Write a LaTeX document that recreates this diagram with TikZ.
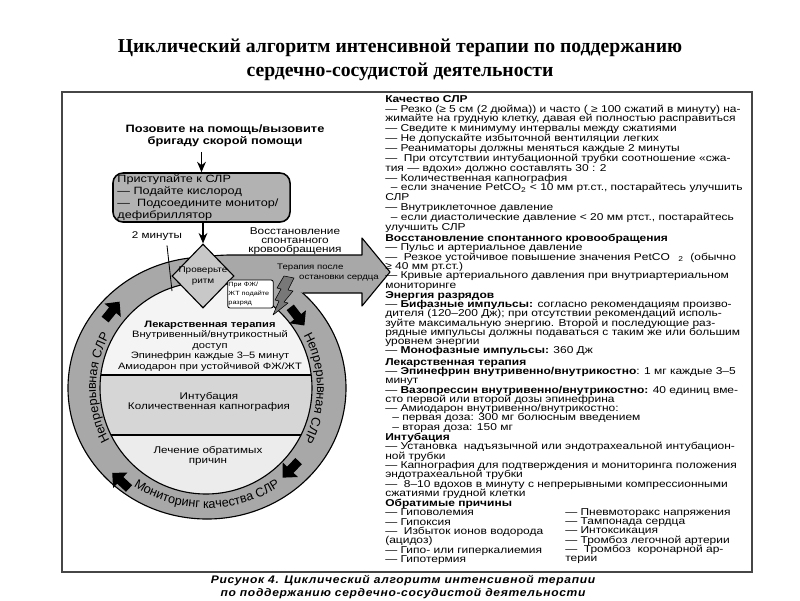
\documentclass[tikz,border=0pt]{standalone}
\usepackage{fontspec}
\setmainfont{Liberation Sans}[FakeStretch=1.2]
\newfontfamily\titlefont{Liberation Serif}
\newfontfamily\ringfont{Liberation Sans}
\newfontfamily\capfont{Liberation Sans}[FakeStretch=1.1,LetterSpace=6.0]
\usetikzlibrary{arrows.meta, shapes.geometric, positioning, decorations.text}
\definecolor{ringgray}{RGB}{168,168,168}
\definecolor{boxgray}{RGB}{178,178,178}
\definecolor{diagray}{RGB}{200,200,200}
\definecolor{bandtop}{RGB}{244,244,244}
\definecolor{bandmid}{RGB}{214,214,214}
\definecolor{bandlow}{RGB}{236,236,236}
\definecolor{boltgray}{RGB}{120,120,120}
\definecolor{framegray}{RGB}{70,70,70}
\newcommand{\notefont}{\fontsize{7.1}{6.6}\selectfont}

\begin{document}
\lineskiplimit=-10pt
\begin{tikzpicture}[x=0.025cm, y=0.025cm,
    flowarrow/.style={-{Stealth[length=2.6mm, width=2.2mm]}, line width=1.1pt},
    notes/.style={anchor=north west, align=left, inner sep=0pt, font=\notefont},
    ringtext/.style={decorate, decoration={text along path, text align=center, text={|\ringfont\fontsize{9}{10}\selectfont|#1}}},
    startbox/.style={draw, line width=1.1pt, fill=boxgray, rounded corners=0.25cm, minimum width=4.425cm, minimum height=1.225cm, text width=4.2cm, align=left, inner xsep=0.1cm, inner ysep=0pt, font=\fontsize{7.5}{8.5}\selectfont},
    checkdiamond/.style={diamond, draw, line width=0.8pt, fill=diagray, minimum width=1.55cm, minimum height=1.6cm, inner sep=0pt},
    shockbox/.style={draw, line width=0.6pt, fill=white, rounded corners=1.5pt, minimum width=1.125cm, minimum height=0.7cm, text width=1.1cm, align=left, inner xsep=0.5pt, inner ysep=1pt, font=\fontsize{4.3}{6.4}\selectfont}
  ]
  \useasboundingbox (0,0) rectangle (800,-600);

  % title and frame
  \node[font=\titlefont\bfseries\fontsize{14}{17}\selectfont, align=center] (title) at (400,-60) {Циклический алгоритм интенсивной терапии по поддержанию\\сердечно-сосудистой деятельности};
  \draw[framegray, line width=0.8pt] (62,-92) rectangle (752,-572);
  \node[font=\capfont\bfseries\itshape\fontsize{7.8}{8.6}\selectfont, align=center] (caption) at (403,-587) {Рисунок 4. Циклический алгоритм интенсивной терапии\\по поддержанию сердечно-сосудистой деятельности};

  % ring
  \coordinate (ringc) at (207,-388);
  \filldraw[fill=ringgray, line width=0.8pt] (ringc) ellipse [x radius=139, y radius=131];
  \fill[ringgray] (207,-257) .. controls (215,-255.5) .. (228,-255) -- (362,-255) -- (362,-238) -- (390,-272) -- (362,-306) -- (362,-293) -- (302.7,-293) -- cycle;
  \draw[line width=0.8pt, line join=round] (207,-257) .. controls (215,-255.5) .. (228,-255) -- (362,-255) -- (362,-238) -- (390,-272) -- (362,-306) -- (362,-293) -- (302.7,-293);
  \begin{scope}
    \clip (206,-388) ellipse [x radius=106, y radius=106];
    \fill[bandtop] (90,-280) rectangle (320,-375);
    \fill[bandmid] (90,-375) rectangle (320,-435);
    \fill[bandlow] (90,-435) rectangle (320,-500);
    \draw[line width=0.8pt] (90,-375) -- (320,-375);
    \draw[line width=0.8pt] (90,-435) -- (320,-435);
  \end{scope}
  \draw[line width=0.8pt] (206,-388) ellipse [x radius=106, y radius=106];

  % inner sections
  \node[font=\fontsize{6.6}{7.5}\selectfont, align=center] (drugs) at (210,-346) {\textbf{Лекарственная терапия}\\Внутривенный/внутрикостный\\доступ\\Эпинефрин каждые 3–5 минут\\Амиодарон при устойчивой ФЖ/ЖТ};
  \node[font=\fontsize{6.9}{7.3}\selectfont, align=center] (intub) at (209,-402) {Интубация\\Количественная капнография};
  \node[font=\fontsize{6.9}{7.3}\selectfont, align=center] (causes) at (208,-456) {Лечение обратимых\\причин};

  % text on the ring
  \path[ringtext={Непрерывная СЛР}] ([shift={(235:111 and 110)}]ringc) arc[start angle=235, end angle=125, x radius=111, y radius=110];
  \path[ringtext={Непрерывная СЛР}] ([shift={(55:110 and 110)}]ringc) arc[start angle=55, end angle=-55, x radius=110, y radius=110];
  \path[ringtext={Мониторинг качества СЛР}] ([shift={(195:128 and 120)}]ringc) arc[start angle=195, end angle=345, x radius=128, y radius=120];

  % arrows round the ring
  \fill[shift={(112,-311)}, rotate=51] (-11,-4.5) -- (1,-4.5) -- (1,-10.5) -- (12,0) -- (1,10.5) -- (1,4.5) -- (-11,4.5) -- cycle;
  \fill[shift={(297,-316)}, rotate=-52] (-11,-4.5) -- (1,-4.5) -- (1,-10.5) -- (12,0) -- (1,10.5) -- (1,4.5) -- (-11,4.5) -- cycle;
  \fill[shift={(291,-469)}, rotate=-134] (-11,-4.5) -- (1,-4.5) -- (1,-10.5) -- (12,0) -- (1,10.5) -- (1,4.5) -- (-11,4.5) -- cycle;
  \fill[shift={(121,-481)}, rotate=137] (-11,-4.5) -- (1,-4.5) -- (1,-10.5) -- (12,0) -- (1,10.5) -- (1,4.5) -- (-11,4.5) -- cycle;

  % flow at the top
  \node[font=\bfseries\fontsize{7.6}{8.5}\selectfont, align=center] (callhelp) at (225,-136) {Позовите на помощь/вызовите\\бригаду скорой помощи};
  \node[startbox] (startcpr) at (201.5,-197.5) {Приступайте к СЛР\\— Подайте кислород\\— \ Подсоедините монитор/\\дефибриллятор};
  \node[checkdiamond] (rhythm) at (203,-276) {};
  \node[font=\fontsize{5.9}{7.8}\selectfont, align=center] (rhythmtxt) at (rhythm.center) {Проверьте\\ритм};
  \draw[flowarrow] (startcpr.north |- callhelp.south) -- (startcpr.north);
  \draw[flowarrow] (rhythm.north |- startcpr.south) -- (rhythm.north);

  \node[font=\fontsize{6.9}{8}\selectfont] (twomin) at (157,-236) {2 минуты};
  \coordinate (twotip) at (172,-291);
  \draw[line width=0.6pt] ([xshift=0.25cm]twomin.south) -- (twotip);

  \node[font=\fontsize{7}{6.3}\selectfont, align=center] (rosc) at (295,-241) {Восстановление\\спонтанного\\кровообращения};
  \node[font=\fontsize{5.7}{7.1}\selectfont, align=left] (posttx) at (328,-273) {Терапия после\\\hspace*{15.6pt}остановки сердца};

  % shock
  \node[shockbox] (shock) at (250.5,-294) {При ФЖ/\\ЖТ подайте\\разряд};
  \filldraw[fill=boltgray, line width=0.4pt, line join=round] (284,-276) -- (294,-278) -- (288,-290) -- (293,-291) -- (284,-302) -- (288,-303) -- (273,-315) -- (279,-301) -- (275,-300) -- (281,-289) -- (277,-288) -- cycle;

  % notes column
  \node[notes, font=\fontsize{7.1}{7.0}\selectfont] (quality) at (385,-95) {\textbf{Качество СЛР}\\
    — Резко (≥ 5 см (2 дюйма)) и часто ( ≥ 100 сжатий в минуту) на-\\
    жимайте на грудную клетку, давая ей полностью расправиться\\
    — Сведите к минимуму интервалы между сжатиями\\
    — Не допускайте избыточной вентиляции легких\\
    — Реаниматоры должны меняться каждые 2 минуты\\
    — \ При отсутствии интубационной трубки соотношение «сжа-\\
    тия — вдохи» должно составлять 30 : 2\\
    — Количественная капнография\\
    \hspace*{4pt}– если значение PetCO\textsubscript{2} < 10 мм рт.ст., постарайтесь улучшить\\
    СЛР\\
    — Внутриклеточное давление\\
    \hspace*{4pt}– если диастолические давление < 20 мм ртст., постарайтесь\\
    улучшить СЛР};
  \node[notes] (roscnotes) at (385,-234) {\textbf{Восстановление спонтанного кровообращения}\\
    — Пульс и артериальное давление\\
    — \ Резкое устойчивое повышение значения PetCO\hspace{6pt}\textsubscript{2} \ (обычно\\
    ≥ 40 мм рт.ст.)\\
    — Кривые артериального давления при внутриартериальном\\
    мониторинге};
  \node[notes] (energy) at (385,-291) {\textbf{Энергия разрядов}\\
    — \textbf{Бифазные импульсы:} согласно рекомендациям произво-\\
    дителя (120–200 Дж); при отсутствии рекомендаций исполь-\\
    зуйте максимальную энергию. Второй и последующие раз-\\
    рядные импульсы должны подаваться с таким же или большим\\
    уровнем энергии\\
    — \textbf{Монофазные импульсы:} 360 Дж};
  \node[notes] (drugnotes) at (385,-358) {\textbf{Лекарственная терапия}\\
    — \textbf{Эпинефрин внутривенно/внутрикостно}: 1 мг каждые 3–5\\
    минут\\
    — \textbf{Вазопрессин внутривенно/внутрикостно:} 40 единиц вме-\\
    сто первой или второй дозы эпинефрина\\
    — Амиодарон внутривенно/внутрикостно:\\
    \hspace*{5pt}– первая доза: 300 мг болюсным введением\\
    \hspace*{5pt}– вторая доза: 150 мг};
  \node[notes] (intubnotes) at (385,-433) {\textbf{Интубация}\\
    — Установка \ надъязычной или эндотрахеальной интубацион-\\
    ной трубки\\
    — Капнография для подтверждения и мониторинга положения\\
    эндотрахеальной трубки\\
    — \ 8–10 вдохов в минуту с непрерывными компрессионными\\
    сжатиями грудной клетки};
  \node[notes] (causesL) at (385,-499) {\textbf{Обратимые причины}\\
    — Гиповолемия\\
    — Гипоксия\\
    — \ Избыток ионов водорода\\
    (ацидоз)\\
    — Гипо- или гиперкалиемия\\
    — Гипотермия};
  \node[notes] (causesR) at (565,-508) {— Пневмоторакс напряжения\\
    — Тампонада сердца\\
    — Интоксикация\\
    — Тромбоз легочной артерии\\
    — \ Тромбоз \ коронарной ар-\\
    терии};
\end{tikzpicture}
\end{document}
